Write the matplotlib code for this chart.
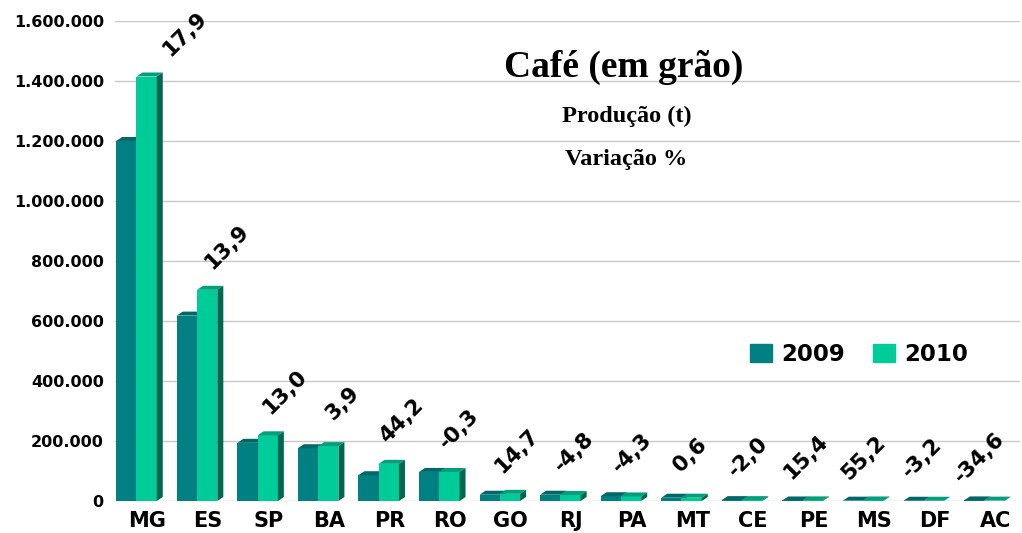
import numpy as np
import matplotlib.pyplot as plt
from matplotlib.patches import Polygon, Patch

plt.rcParams.update({
    "font.family": "DejaVu Sans",
    "font.weight": "bold"})

estados = ["MG", "ES", "SP", "BA", "PR", "RO", "GO", "RJ",
           "PA", "MT", "CE", "PE", "MS", "DF", "AC"]
prod_2009 = [1200000, 618000, 194000, 176000, 86000, 97000, 21000, 21000,
             16000, 11000, 3000, 1800, 1200, 900, 2000]
prod_2010 = [1415000, 704000, 219000, 183000, 124000, 96700, 24000, 20000,
             15300, 11100, 2940, 2080, 1860, 870, 1310]
variacao = ["17,9", "13,9", "13,0", "3,9", "44,2", "-0,3", "14,7", "-4,8",
            "-4,3", "0,6", "-2,0", "15,4", "55,2", "-3,2", "-34,6"]

# front / top / side colours
cores_2009 = ("#008080", "#006868", "#005c5c")
cores_2010 = ("#00cc99", "#00a07a", "#00684f")


def bar3d(ax, x0, w, h, dx, dy, cores, z):
    frente, topo, lado = cores
    ax.bar(x0, h, w, align="edge", color=frente, zorder=z, linewidth=0)
    ax.add_patch(Polygon([(x0, h), (x0 + w, h), (x0 + w + dx, h + dy), (x0 + dx, h + dy)],
                         closed=True, color=topo, zorder=z, linewidth=0))
    ax.add_patch(Polygon([(x0 + w, 0), (x0 + w + dx, dy), (x0 + w + dx, h + dy), (x0 + w, h)],
                         closed=True, color=lado, zorder=z, linewidth=0))


def plot(plot_file: str) -> None:
    fig = plt.figure(figsize=(10.22, 5.33), dpi=100)
    ax = fig.add_axes([0.1125, 0.060, 0.8855, 0.9006])

    xlim = (-0.355, 14.59)
    ylim = (0, 1600000)
    ax.set_xlim(xlim)
    ax.set_ylim(ylim)

    # 3d depth: 6 px right, 4 px up
    dx = 6. / (0.8855 * 1022) * (xlim[1] - xlim[0])
    dy = 4. / (0.9006 * 533) * (ylim[1] - ylim[0])

    x = np.arange(len(estados))
    w = 0.335
    for i in x:
        bar3d(ax, i - w, w, prod_2009[i], dx, dy, cores_2009, 2)
        bar3d(ax, i, w, prod_2010[i], dx, dy, cores_2010, 3)
        off_x = 27 - 2.7 * i if i > 0 else 42
        ax.annotate(variacao[i], (i + w / 2, prod_2010[i]),
                    xytext=(off_x - 4, 43), textcoords="offset pixels",
                    rotation=45, ha="center", va="center", fontsize=15.5,
                    fontweight="bold", zorder=5)

    yt = np.arange(0, 1600001, 200000)
    ax.set_yticks(yt)
    ax.set_yticklabels([f"{v:,}".replace(",", ".") for v in yt], fontsize=11.5)
    ax.set_xticks(x + 0.18)
    ax.set_xticklabels(estados, fontsize=15)
    ax.tick_params(axis="y", length=0, pad=8)
    ax.tick_params(axis="x", length=0, pad=7)
    for s in ax.spines.values():
        s.set_visible(False)
    ax.set_axisbelow(True)
    ax.yaxis.grid(True, color="#c8c8c8", linewidth=1)

    fig.text(0.6106, 0.8555, "Café (em grão)", ha="center", va="baseline",
             family="Liberation Serif", fontweight="bold", fontsize=27)
    fig.text(0.6135, 0.7711, "Produção (t)", ha="center", va="baseline",
             family="Liberation Serif", fontweight="bold", fontsize=17.5)
    fig.text(0.6130, 0.6904, "Variação %", ha="center", va="baseline",
             family="Liberation Serif", fontweight="bold", fontsize=17.5)

    handles = [Patch(color=cores_2009[0], label="2009"),
               Patch(color=cores_2010[0], label="2010")]
    ax.legend(handles=handles, loc="center left", bbox_to_anchor=(0.679, 0.305),
              ncol=2, frameon=False, handlelength=0.95,
              handleheight=0.8, handletextpad=0.4, columnspacing=1.25,
              prop={"weight": "bold", "size": 16.5})

    fig.savefig(plot_file, dpi=100)
    plt.close(fig)


if __name__ == '__main__':
    plot("out.png")
